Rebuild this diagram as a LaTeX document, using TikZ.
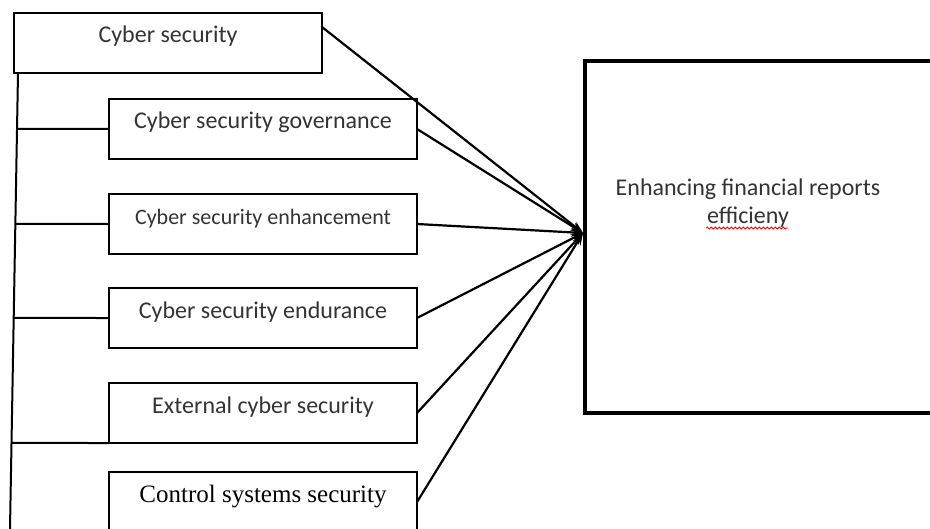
\documentclass[tikz,border=0pt]{standalone}
\usepackage{fontspec}
\setmainfont{Carlito}
\newfontfamily\timesfont{Liberation Serif}
\usetikzlibrary{calc,arrows.meta,decorations.pathmorphing}

\begin{document}
\begin{tikzpicture}[x=0.5pt,y=-0.5pt,
  box/.style={draw, line width=1pt, outer sep=0pt, inner sep=0pt,
    minimum width=154pt, minimum height=30pt, text height=8pt, text depth=8pt,
    font=\fontsize{12}{14}\selectfont, text=black!80},
  link/.style={line width=1.1pt, -{Stealth[length=6pt,width=4.5pt]}}]
\useasboundingbox (0,0) rectangle (930,529);

% factors
\node[box] (cs) at (168,43) {Cyber security};
\node[box] (gov) at (263,129) {Cyber security governance};
\node[box, font=\fontsize{11}{13}\selectfont] (enh) at (263,224) {Cyber security enhancement};
\node[box] (endu) at (263,318) {Cyber security endurance};
\node[box] (ext) at (263,413) {External cyber security};
\node[box, font=\timesfont\fontsize{12.5}{14}\selectfont, text=black] (ctl) at (263,502) {Control systems security};

% outcome
\node[draw, line width=2pt, outer sep=0pt, minimum width=175pt, minimum height=176pt,
  anchor=north west] (eff) at (585,61) {};
\node[align=center, font=\fontsize{12}{13.5}\selectfont, text=black!80, anchor=base]
  (efftext) at (748,223) {Enhancing financial reports\\efficieny};
\draw[red, line width=0.4pt, decorate, decoration={snake, amplitude=0.5pt, segment length=2pt}]
  (706,228) -- (788,228);

% tree on the left
\coordinate (trunktop) at ([xshift=2pt]cs.south west);
\coordinate (trunkbot) at (10,529);
\draw[line width=1pt] (trunktop) -- (trunkbot);
\foreach \b in {gov,enh,endu} {
	\draw[line width=1pt] (intersection of trunktop--trunkbot and \b.west--\b.east) -- (\b.west);
}
\draw[line width=1pt] (intersection of trunktop--trunkbot and ext.south west--ext.south east)
  -- (ext.south west);

% arrows
\coordinate (hub) at ([xshift=-1pt,yshift=2pt]eff.west);
\draw[link] ([yshift=8pt]cs.east) -- (hub);
\foreach \b in {gov,enh,endu,ext,ctl} {
	\draw[link] (\b.east) -- (hub);
}

\end{tikzpicture}
\end{document}
